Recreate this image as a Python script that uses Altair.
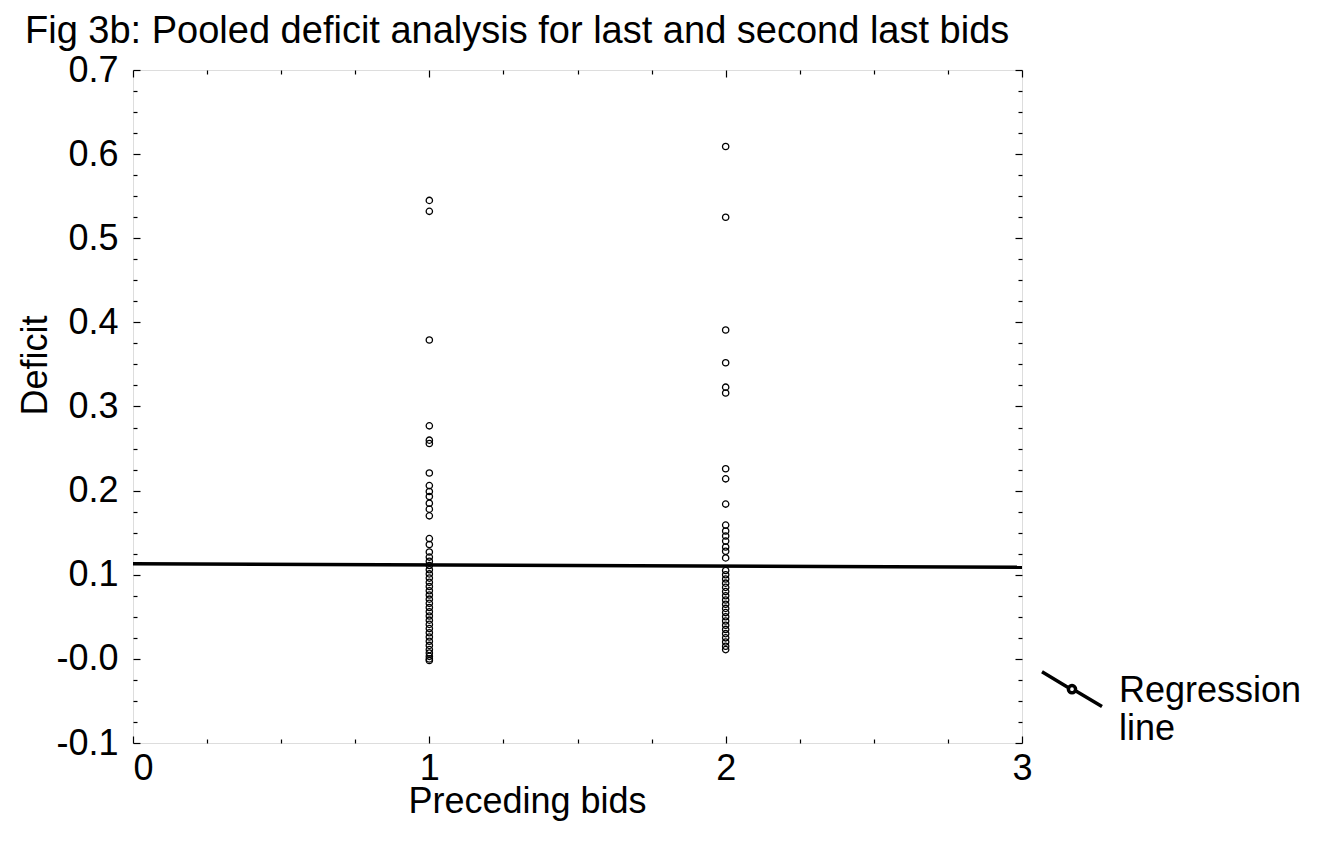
import altair as alt
import pandas as pd

# ---- data ----
x1_deficits = [0.545, 0.532, 0.379, 0.277, 0.260, 0.256, 0.221, 0.206, 0.199, 0.193,
               0.185, 0.178, 0.170, 0.143, 0.136, 0.127, 0.121, 0.116, 0.111, 0.106,
               0.101, 0.096, 0.091, 0.086, 0.081, 0.076, 0.071, 0.066, 0.061, 0.056,
               0.051, 0.046, 0.041, 0.036, 0.031, 0.026, 0.021, 0.016, 0.011, 0.007,
               0.003, 0.000, -0.002]
x2_deficits = [0.609, 0.525, 0.391, 0.352, 0.323, 0.316, 0.226, 0.214, 0.184, 0.159,
               0.152, 0.146, 0.140, 0.133, 0.128, 0.120, 0.105, 0.100, 0.095, 0.090,
               0.085, 0.080, 0.075, 0.070, 0.065, 0.060, 0.055, 0.050, 0.045, 0.040,
               0.035, 0.030, 0.025, 0.020, 0.015, 0.011]
reg_x = [0, 3]
reg_y = [0.113, 0.109]
reg_name = "Regression line"

x_ticks = [0, 1, 2, 3]
x_minor = [0, 0.25, 0.5, 0.75, 1, 1.25, 1.5, 1.75, 2, 2.25, 2.5, 2.75, 3]
y_ticks = [-0.1, 0.0, 0.1, 0.2, 0.3, 0.4, 0.5, 0.6, 0.7]
y_minor = [round(-0.1 + 0.025 * i, 3) for i in range(33)]

W, H = 889, 673
FONT = "Liberation Sans"
FS = 36

pts = pd.DataFrame({
    "x": [1] * len(x1_deficits) + [2] * len(x2_deficits),
    "y": x1_deficits + x2_deficits,
})
reg = pd.DataFrame({"x": reg_x, "y": reg_y, "series": [reg_name] * len(reg_x)})

xs = alt.Scale(domain=[0, 3], nice=False, zero=False)
ys = alt.Scale(domain=[-0.1, 0.7], nice=False, zero=False)

x_main_axis = alt.Axis(
    orient="bottom", values=x_ticks, ticks=False, domain=False, grid=False,
    labelFontSize=FS, labelFont=FONT, labelColor="black", labelPadding=8,
    labelFlush=False,
    labelAlign=alt.condition("datum.value == 0", alt.value("left"), alt.value("center")),
    title="Preceding bids", titleFontSize=FS, titleFont=FONT, titleFontWeight="normal",
    titleColor="black", titleX=394, titleY=69, titleBaseline="alphabetic",
)
y_main_axis = alt.Axis(
    orient="left", values=y_ticks, ticks=False, domain=False, grid=False,
    labelFontSize=FS, labelFont=FONT, labelColor="black", labelPadding=15,
    labelExpr="abs(datum.value) < 1e-9 ? '-0.0' : (datum.value < 0 ? '-' + format(-datum.value, '.1f') : format(datum.value, '.1f'))",
    title="Deficit", titleFontSize=FS, titleFont=FONT, titleFontWeight="normal",
    titleColor="black", titleX=-87, titleY=295, titleAngle=-90,
    titleBaseline="alphabetic", titleAlign="center",
)

xtick_size = {"condition": {"test": "datum.value % 1 === 0", "value": 7}, "value": 4}
ytick_size = {"condition": {"test": "abs(datum.value*10 - round(datum.value*10)) < 0.001",
                            "value": 7}, "value": 4}


def tick_axis(orient, offset, values, size):
    return alt.Axis(orient=orient, offset=offset, values=values, tickSize=size,
                    tickColor="black", tickWidth=1.2, labels=False, domain=False,
                    grid=False, title=None)


points = alt.Chart(pts).mark_point(
    shape="circle", size=40, filled=False, color="black", strokeWidth=1.3, opacity=1
).encode(
    x=alt.X("x:Q", scale=xs, axis=x_main_axis),
    y=alt.Y("y:Q", scale=ys, axis=y_main_axis),
)

sym = ("M-1,-0.64L-0.13,-0.12M0.13,0.0L1,0.52"
       "M0.12,-0.06A0.12,0.12 0 1,1 -0.12,-0.06A0.12,0.12 0 1,1 0.12,-0.06")

line = alt.Chart(reg).mark_line(color="black", strokeWidth=3.5).encode(
    x=alt.X("x:Q", scale=xs, axis=x_main_axis),
    y=alt.Y("y:Q", scale=ys, axis=y_main_axis),
    stroke=alt.Stroke(
        "series:N",
        scale=alt.Scale(range=["black"]),
        legend=alt.Legend(
            title=None, orient="none", legendX=907, legendY=589, padding=0,
            symbolType=sym, symbolSize=3600, symbolStrokeWidth=3.5,
            symbolStrokeColor="black", symbolFillColor="white",
            labelFontSize=FS, labelFont=FONT, labelColor="black",
            labelExpr="['Regression', 'line']", labelOffset=15, labelLimit=400,
        ),
    ),
)

inner = alt.layer(points, line)

ticks_a = alt.Chart(pts).mark_point(opacity=0).encode(
    x=alt.X("x:Q", scale=xs, axis=tick_axis("top", -H, x_minor, xtick_size)),
    y=alt.Y("y:Q", scale=ys, axis=tick_axis("right", -W, y_minor, ytick_size)),
)
ticks_b = alt.Chart(pts).mark_point(opacity=0).encode(
    x=alt.X("x:Q", scale=xs, axis=tick_axis("bottom", -H, x_minor, xtick_size)),
    y=alt.Y("y:Q", scale=ys, axis=tick_axis("left", -W, y_minor, ytick_size)),
)

chart = alt.layer(inner, ticks_a, ticks_b).resolve_scale(
    x="independent", y="independent"
).properties(
    width=W, height=H,
    title=alt.Title(
        "Fig 3b: Pooled deficit analysis for last and second last bids",
        fontSize=38, font=FONT, fontWeight="normal", color="black",
        anchor="start", frame="group", dx=-108, dy=36, offset=7, baseline="alphabetic",
    ),
    autosize=alt.AutoSizeParams(type="none"),
    padding={"left": 125, "top": 62, "right": 285, "bottom": 95},
).configure_view(stroke="black", strokeWidth=2).configure(background="white")

chart.save("out.html", embed_options={"renderer": "svg", "actions": False})
